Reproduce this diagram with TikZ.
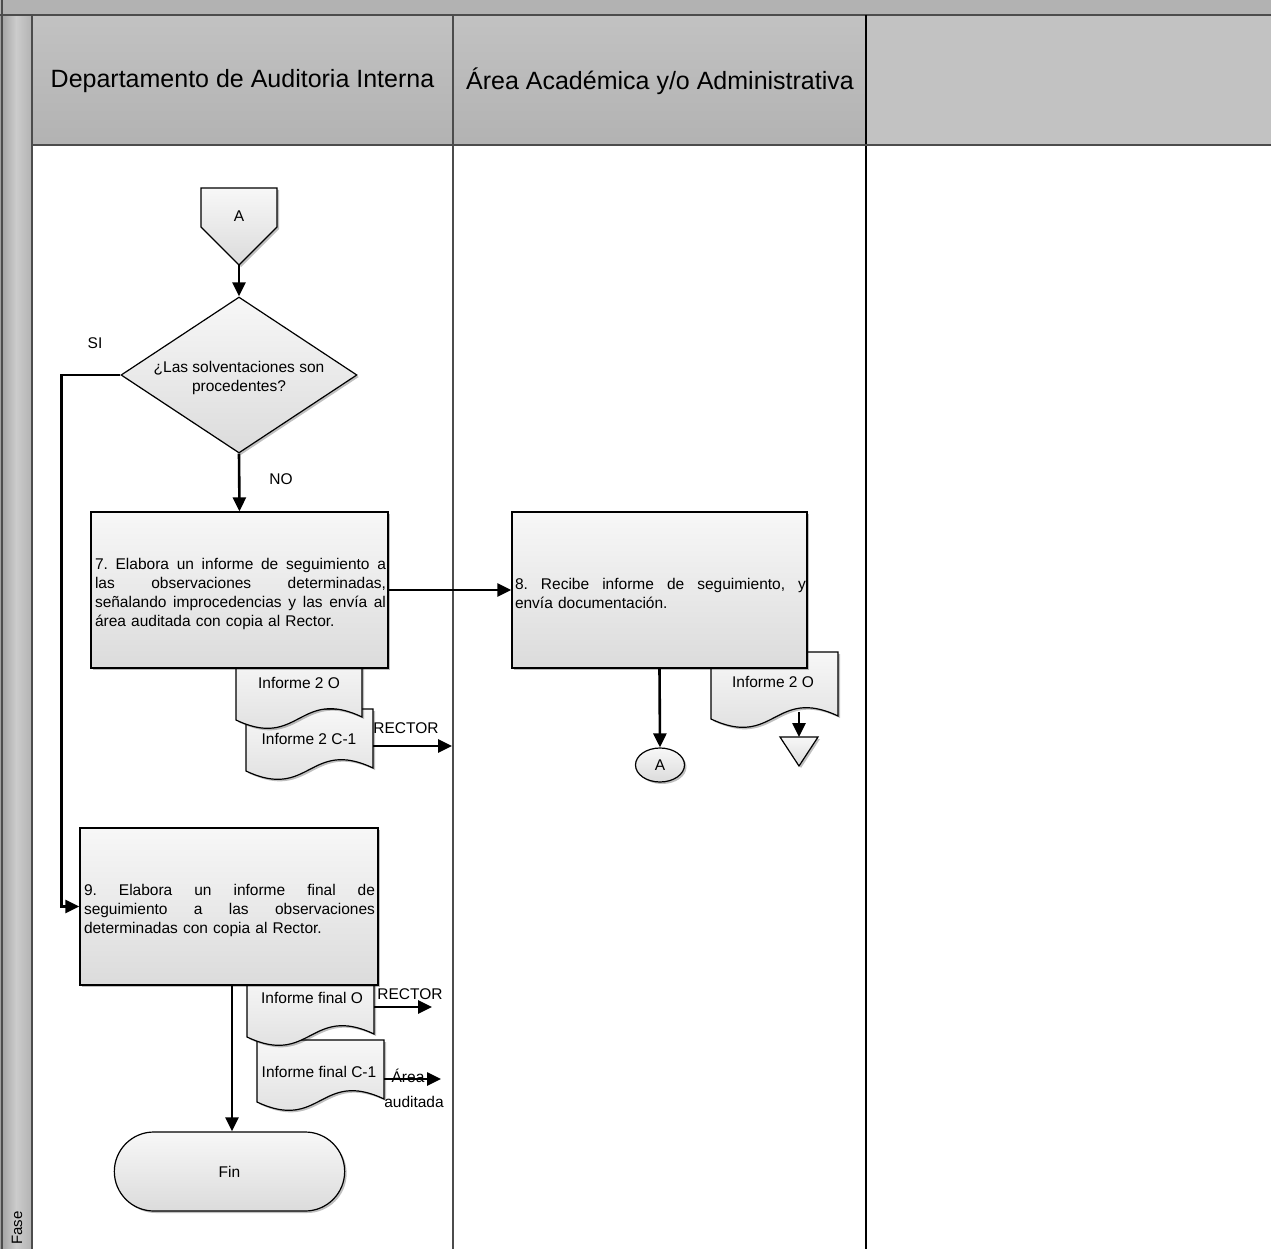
\documentclass[tikz,border=0pt]{standalone}
\usepackage{fontspec}
\setmainfont{Liberation Sans}
\usetikzlibrary{shapes.geometric,shapes.misc,shadows,arrows.meta}
\newcommand\txtfont{\fontsize{15.5}{19}\selectfont\frenchspacing}
\newcommand\hdrfont{\fontsize{25}{30}\selectfont}
\newcommand\jline[1]{\leavevmode\hbox to 291pt{\spaceskip=\fontdimen2\font plus 1fil\relax #1}}
\newcommand\docshape[5]{%
  \path[#5] (#1,#3) -- (#2,#3) -- (#2,#4-3) .. controls ({(#1+#2)/2},#4-33) and ({(#1+#2)/2},#4+30) .. (#1,#4) -- cycle;}
\begin{document}
\begin{tikzpicture}[x=1pt,y=-1pt]
\tikzset{
  laneline/.style={draw=black!70, line width=1.3pt},
  shp/.style={draw=black, line width=1.2pt, top color=black!3, bottom color=black!14,
    drop shadow={shadow xshift=2pt,shadow yshift=-2pt,opacity=0.25,fill=black}},
  proc/.style={shp, rectangle, inner sep=0pt, minimum height=156pt},
  boxtxt/.style={inner sep=0pt, text width=291pt, align=left, font=\txtfont},
  arr/.style={line width=2.6pt, -{Triangle[length=14pt,width=13pt]}},
  lbl/.style={font=\txtfont, inner sep=0pt},
}
\useasboundingbox (0,0) rectangle (1271,1249);
% backgrounds
\fill[black!30] (0,0) rectangle (1271,15);
\shade[left color=black!38, right color=black!30, middle color=black!20] (0,15) rectangle (32,1249);
\shade[top color=black!24, bottom color=black!30] (32,15) rectangle (866,145);
\fill[black!24] (866,15) rectangle (1271,145);
\fill[white] (32,145) rectangle (1271,1249);
% frame lines
\draw[laneline] (0,15) -- (1271,15);
\draw[laneline] (2,0) -- (2,1249);
\draw[laneline] (32,15) -- (32,1249);
\draw[laneline] (453,15) -- (453,1249);
\draw[draw=black, line width=1.3pt] (866,15) -- (866,1249);
\draw[laneline] (32,145) -- (1271,145);
% header texts
\node[font=\hdrfont, inner sep=0pt] (h1) at (242.5,81) {Departamento de Auditoria Interna};
\node[font=\hdrfont, inner sep=0pt] (h2) at (660,81) {Área Académica y/o Administrativa};
\node[font=\fontsize{15}{18}\selectfont, rotate=90, inner sep=0pt] (fase) at (17,1228) {Fase};
% off-page connector A
\path[shp] (201,188) -- (277,188) -- (277,227) -- (239,265) -- (201,227) -- cycle;
\node[lbl] (offA) at (239,216) {A};
\coordinate (offAtip) at (239,265);
% decision
\node[shp, diamond, minimum width=236pt, minimum height=156pt, inner sep=0pt] (dec) at (239,375) {};
\node[lbl, align=center] (dectxt) at (239,378) {¿Las solventaciones son\\procedentes?};
\node[lbl] (si) at (95,343) {SI};
\node[lbl] (no) at (281,479) {NO};
% documents of step 7
\docshape{246}{373}{709}{771}{shp}
\node[lbl] (d2c) at (309,739) {Informe 2 C-1};
\docshape{236}{362}{655}{720}{shp}
\node[lbl] (d2o) at (299,683) {Informe 2 O};
% step 7
\node[proc, minimum width=297pt] (box7) at (239.5,590) {};
\node[boxtxt] (t7) at (240.5,594) {%
\jline{7. Elabora un informe de seguimiento a}\\
\jline{las observaciones determinadas,}\\
\jline{señalando improcedencias y las envía al}\\
área auditada con copia al Rector.};
% right document
\docshape{711}{838}{652}{719}{shp}
\node[lbl] (d3o) at (773,682) {Informe 2 O};
\coordinate (d3b) at (799,712);
% step 8
\node[proc, minimum width=295pt] (box8) at (659.5,590) {};
\node[boxtxt] (t8) at (660.5,593) {%
\jline{8. Recibe informe de seguimiento, y}\\
envía documentación.};
% connector A (circle) and archive
\node[shp, ellipse, minimum width=49pt, minimum height=34pt, inner sep=0pt, font=\txtfont] (conA) at (660,765) {A};
\path[shp] (780,737) -- (818,737) -- (799,766) -- cycle;
\coordinate (archT) at (799,737);
% documents of step 9
\docshape{257}{384}{1040}{1102}{shp}
\node[lbl] (dfc) at (319,1072) {Informe final C-1};
\docshape{247}{374}{975}{1037}{shp}
\node[lbl] (dfo) at (312,998) {Informe final O};
% step 9
\node[proc, minimum width=298pt, minimum height=157pt] (box9) at (229,906.5) {};
\node[boxtxt] (t9) at (229.5,910.5) {%
\jline{9. Elabora un informe final de}\\
\jline{seguimiento a las observaciones}\\
determinadas con copia al Rector.};
% terminator
\node[shp, rounded rectangle, minimum width=237pt, minimum height=79pt, font=\txtfont] (fin) at (229.5,1171.5) {Fin};
% labels
\node[lbl] (r1) at (406,728) {RECTOR};
\node[lbl] (r2) at (410,994) {RECTOR};
\node[lbl] (aa1) at (408,1076) {Área};
\node[lbl] (aa2) at (414,1102) {auditada};
% coordinates for free ends
\coordinate (c1s) at (373,746);
\coordinate (c1e) at (452,746);
\coordinate (fos) at (374,1007);
\coordinate (foe) at (432,1007);
\coordinate (fcs) at (384,1079);
\coordinate (fce) at (441,1079);
% connectors
\draw[arr] (offAtip) -- (dec.north);
\draw[arr] (dec.south) -- (box7.north);
\draw[arr] (dec.west) -- ++(-59,0) |- (box9.west);
\draw[arr] (box7.east) -- (box8.west);
\draw[arr] (box8.south) -- (conA.north);
\draw[arr] (d3b) -- (archT);
\draw[arr] (c1s) -- (c1e);
\draw[arr] (fos) -- (foe);
\draw[arr] (fcs) -- (fce);
\draw[arr] ([xshift=3pt]box9.south) -- ([xshift=2.5pt]fin.north);
\end{tikzpicture}
\end{document}
